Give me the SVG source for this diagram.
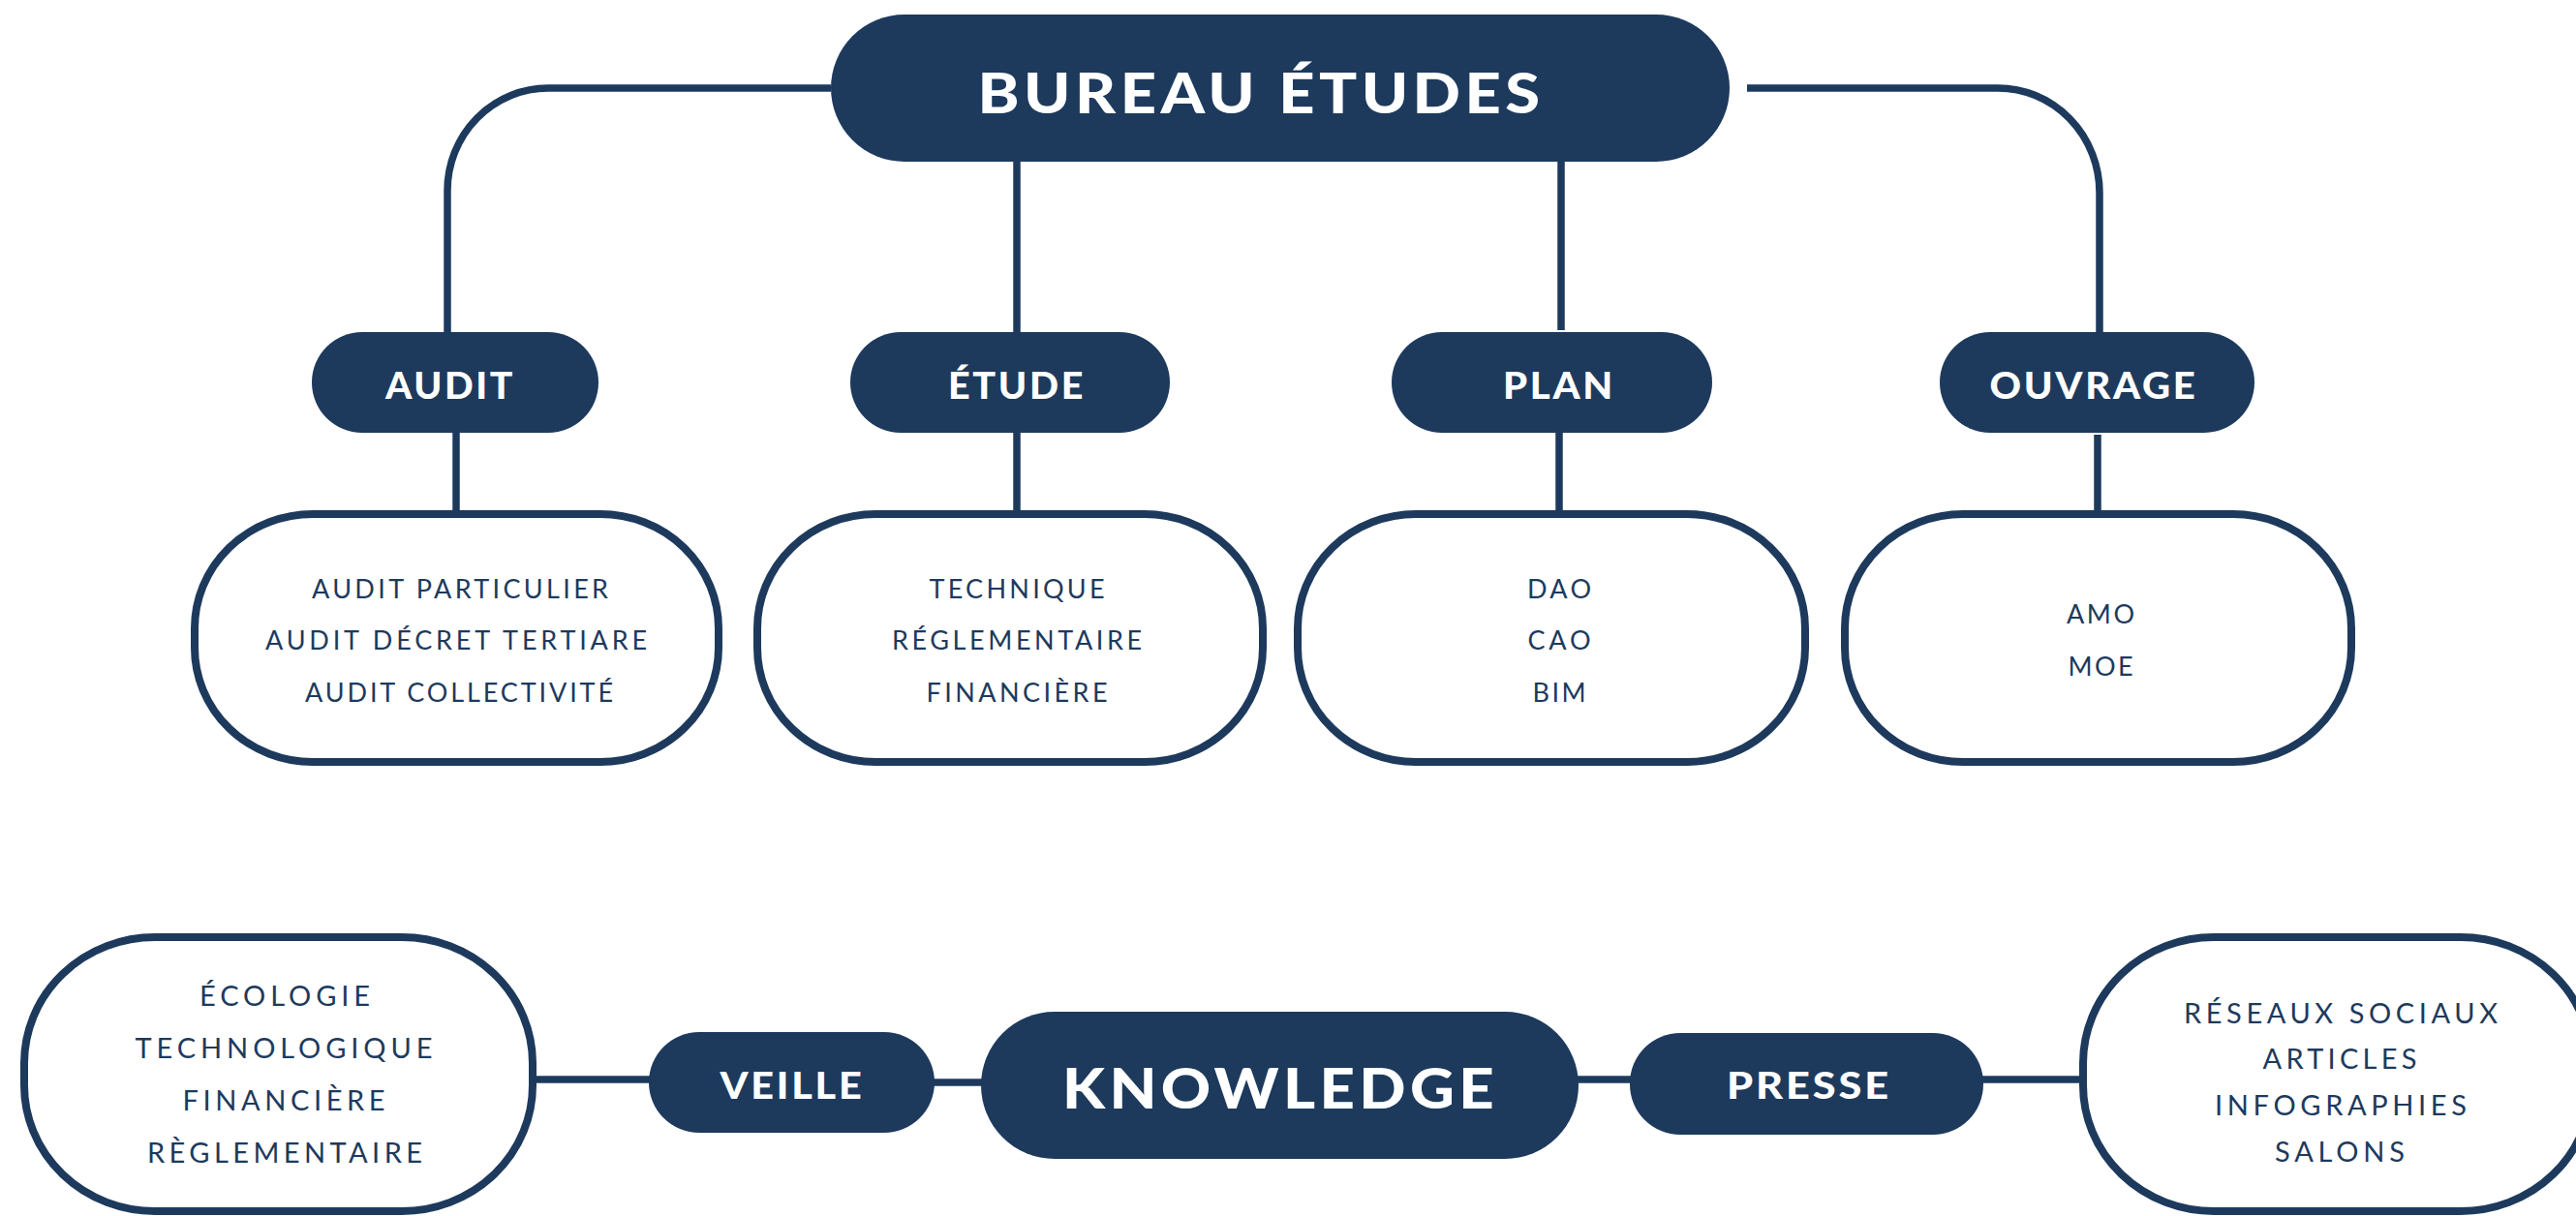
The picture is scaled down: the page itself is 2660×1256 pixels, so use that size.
<svg xmlns="http://www.w3.org/2000/svg" width="2660" height="1256" viewBox="0 0 2660 1256">
<style>
.solid{fill:#1d3a5d}
.outline{fill:#ffffff;stroke:#1d3a5d;stroke-width:8}
.conn{fill:none;stroke:#1d3a5d;stroke-width:7.5}
.big{font-family:Lato,"Liberation Sans",sans-serif;font-weight:900;font-size:58px;letter-spacing:4px;fill:#ffffff;text-anchor:middle}
.mid{font-family:Lato,"Liberation Sans",sans-serif;font-weight:900;font-size:37px;letter-spacing:2.5px;fill:#ffffff;text-anchor:middle}
.det{font-family:Lato,"Liberation Sans",sans-serif;font-weight:400;font-size:27px;fill:#1d3a5d;text-anchor:middle}
.det2{font-family:Lato,"Liberation Sans",sans-serif;font-weight:400;font-size:29px;fill:#1d3a5d;text-anchor:middle}
</style>
<rect width="2660" height="1256" fill="#ffffff"/>
<g id="connectors">
<path class="conn" d="M858 91 H566 A104 106 0 0 0 462 197 V343"/>
<path class="conn" d="M1804 91 H2063 A105 108 0 0 1 2168 199 V343"/>
<path class="conn" d="M1050 167 V343"/>
<path class="conn" d="M1612 167 V341"/>
<path class="conn" d="M471 447 V528"/>
<path class="conn" d="M1050 447 V528"/>
<path class="conn" d="M1610 447 V528"/>
<path class="conn" d="M2166 449 V528"/>
<path class="conn" d="M552 1115 H671"/>
<path class="conn" d="M964 1118 H1015"/>
<path class="conn" d="M1629 1115 H1684"/>
<path class="conn" d="M2047 1115 H2150"/>
</g>
<g id="bureau-etudes">
<rect class="solid" x="858" y="15" width="928" height="152" rx="76"/>
<text class="big" x="1302" y="117" textLength="585" lengthAdjust="spacingAndGlyphs">BUREAU ÉTUDES</text>
</g>
<g id="audit">
<rect class="solid" x="322" y="343" width="296" height="104" rx="52"/>
<text class="mid" x="465" y="412" textLength="134" lengthAdjust="spacingAndGlyphs">AUDIT</text>
</g>
<g id="etude">
<rect class="solid" x="878" y="343" width="330" height="104" rx="52"/>
<text class="mid" x="1050" y="412" textLength="142" lengthAdjust="spacingAndGlyphs">ÉTUDE</text>
</g>
<g id="plan">
<rect class="solid" x="1437" y="343" width="331" height="104" rx="52"/>
<text class="mid" x="1610" y="412" textLength="116" lengthAdjust="spacingAndGlyphs">PLAN</text>
</g>
<g id="ouvrage">
<rect class="solid" x="2003" y="343" width="325" height="104" rx="52"/>
<text class="mid" x="2162" y="412" textLength="215" lengthAdjust="spacingAndGlyphs">OUVRAGE</text>
</g>
<g id="audit-details">
<rect class="outline" x="201" y="531" width="541" height="256" rx="122" ry="118"/>
<text class="det" x="475" y="618" textLength="306" lengthAdjust="spacing">AUDIT PARTICULIER</text>
<text class="det" x="471" y="671" textLength="394" lengthAdjust="spacing">AUDIT DÉCRET TERTIARE</text>
<text class="det" x="474" y="725" textLength="318" lengthAdjust="spacing">AUDIT COLLECTIVITÉ</text>
</g>
<g id="etude-details">
<rect class="outline" x="782" y="531" width="522" height="256" rx="122" ry="118"/>
<text class="det" x="1050" y="618" textLength="181" lengthAdjust="spacing">TECHNIQUE</text>
<text class="det" x="1050" y="671" textLength="258" lengthAdjust="spacing">RÉGLEMENTAIRE</text>
<text class="det" x="1050" y="725" textLength="187" lengthAdjust="spacing">FINANCIÈRE</text>
</g>
<g id="plan-details">
<rect class="outline" x="1340" y="531" width="524" height="256" rx="122" ry="118"/>
<text class="det" x="1610" y="618" textLength="66" lengthAdjust="spacing">DAO</text>
<text class="det" x="1610" y="671" textLength="65" lengthAdjust="spacing">CAO</text>
<text class="det" x="1610" y="725" textLength="55" lengthAdjust="spacing">BIM</text>
</g>
<g id="ouvrage-details">
<rect class="outline" x="1905" y="531" width="523" height="256" rx="122" ry="118"/>
<text class="det" x="2169" y="644" textLength="70" lengthAdjust="spacing">AMO</text>
<text class="det" x="2169" y="698" textLength="67" lengthAdjust="spacing">MOE</text>
</g>
<g id="veille-details">
<rect class="outline" x="25" y="968" width="525" height="283" rx="135" ry="130"/>
<text class="det2" x="294" y="1039" textLength="176" lengthAdjust="spacing">ÉCOLOGIE</text>
<text class="det2" x="293" y="1093" textLength="307" lengthAdjust="spacing">TECHNOLOGIQUE</text>
<text class="det2" x="293" y="1147" textLength="209" lengthAdjust="spacing">FINANCIÈRE</text>
<text class="det2" x="294" y="1201" textLength="284" lengthAdjust="spacing">RÈGLEMENTAIRE</text>
</g>
<g id="veille">
<rect class="solid" x="670" y="1066" width="295" height="104" rx="52"/>
<text class="mid" x="818" y="1135" textLength="149" lengthAdjust="spacingAndGlyphs">VEILLE</text>
</g>
<g id="knowledge">
<rect class="solid" x="1013" y="1045" width="617" height="152" rx="76"/>
<text class="big" x="1322" y="1145" textLength="450" lengthAdjust="spacingAndGlyphs">KNOWLEDGE</text>
</g>
<g id="presse">
<rect class="solid" x="1683" y="1067" width="365" height="105" rx="52"/>
<text class="mid" x="1868" y="1135" textLength="170" lengthAdjust="spacingAndGlyphs">PRESSE</text>
</g>
<g id="presse-details">
<rect class="outline" x="2151" y="968" width="525" height="283" rx="135" ry="130"/>
<text class="det2" x="2417" y="1057" textLength="324" lengthAdjust="spacing">RÉSEAUX SOCIAUX</text>
<text class="det2" x="2416" y="1104" textLength="159" lengthAdjust="spacing">ARTICLES</text>
<text class="det2" x="2417" y="1152" textLength="260" lengthAdjust="spacing">INFOGRAPHIES</text>
<text class="det2" x="2416" y="1200" textLength="134" lengthAdjust="spacing">SALONS</text>
</g>
</svg>
